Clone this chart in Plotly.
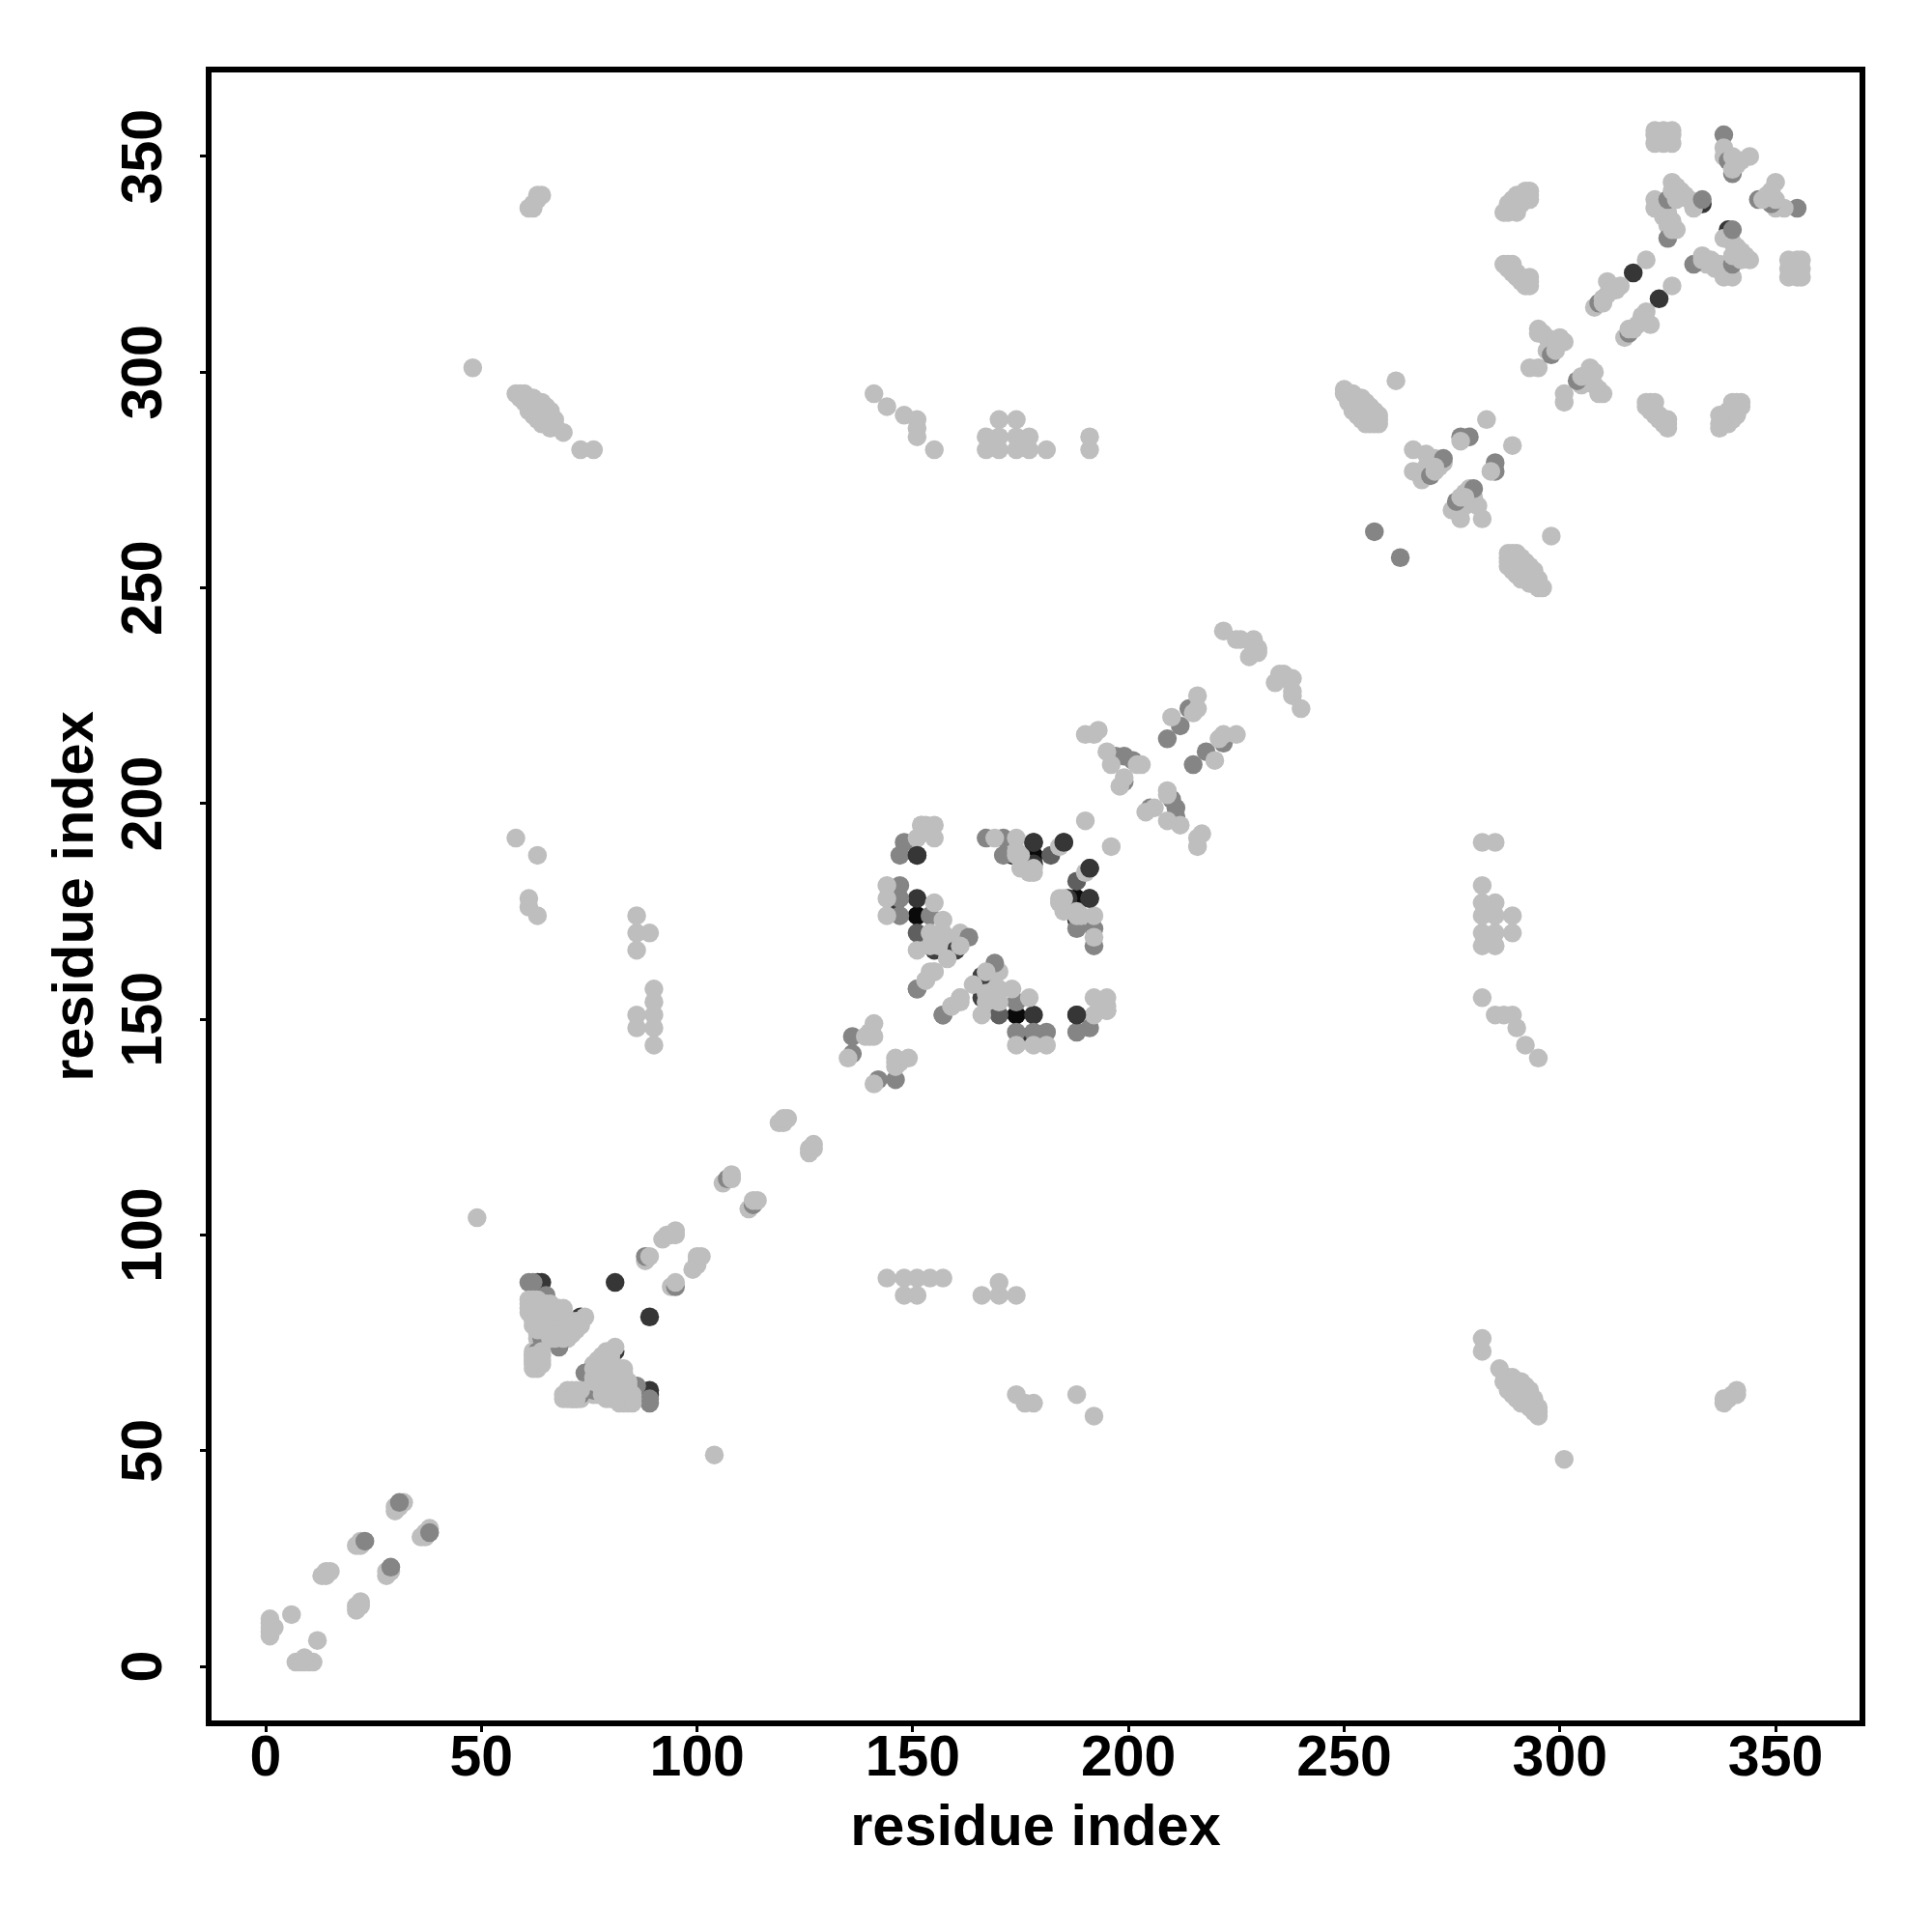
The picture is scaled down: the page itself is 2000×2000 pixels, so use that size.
import plotly.graph_objects as go

# Contact pairs (i, j), i < j; the map is symmetric, each pair is drawn at (i, j) and (j, i).
black_pairs = [(151, 174), (178, 188)]
dark_pairs = [(81, 89), (73, 81), (317, 323), (333, 339), (146, 177), (151, 178), (151, 188),
              (178, 191), (185, 191), (173, 188), (178, 186),
              (63, 89), (64, 89)]
dim_pairs = [(151, 170), (182, 188), (154, 169)]
mid_pairs = [(61, 89), (62, 89), (65, 86), (136, 142), (136, 146), (147, 181), (147, 178), (147, 174),
             (154, 174), (148, 191), (147, 188), (151, 157), (157, 151), (159, 167),
             (167, 192), (171, 192), (171, 188), (214, 222), (212, 218), (209, 215),
             (197, 211), (199, 211), (201, 210), (199, 205), (257, 263),
             (277, 285), (279, 285), (310, 317),
             (338, 355)]
light_pairs = [(1, 7), (1, 8), (1, 9), (1, 10), (1, 11), (2, 9), (6, 12),
               (13, 21), (14, 21), (14, 22), (15, 22), (21, 28), (22, 28), (22, 29),
               (30, 36), (30, 37), (31, 37), (32, 38),
               (48, 301), (49, 104),
               (61, 82), (61, 83), (61, 84), (61, 85),
               (62, 69), (62, 70), (62, 71), (62, 72), (62, 73), (62, 79), (62, 80), (62, 81),
               (62, 82), (62, 83), (62, 84), (62, 85),
               (63, 69), (63, 70), (63, 71), (63, 76), (63, 77), (63, 78), (63, 79), (63, 80),
               (63, 81), (63, 82), (63, 83), (63, 84), (63, 85),
               (64, 70), (64, 71), (64, 72), (64, 75), (64, 77), (64, 78), (64, 79), (64, 80),
               (64, 81), (64, 82), (64, 83), (64, 84),
               (65, 75), (65, 77), (65, 78), (65, 79), (65, 80), (65, 81), (65, 82), (65, 83),
               (65, 84), (66, 76), (66, 78), (66, 79), (66, 80), (66, 81), (66, 82), (66, 83),
               (66, 84), (67, 76), (67, 78), (67, 80), (67, 82), (67, 83),
               (68, 76), (68, 78), (68, 80), (68, 82), (68, 83),
               (69, 76), (69, 78), (69, 80), (69, 82), (69, 83),
               (70, 76), (70, 78), (70, 80), (71, 77), (71, 79), (71, 80),
               (72, 78), (72, 80), (73, 79), (73, 80), (74, 81),
               (88, 94), (92, 99), (93, 100), (94, 100), (95, 100), (95, 101),
               (106, 112),
               (119, 126), (120, 126), (120, 127), (121, 127),
               (135, 141), (140, 147), (140, 146), (141, 146), (139, 146), (141, 149),
               (152, 195), (153, 195), (155, 195), (152, 195), (151, 192), (155, 192),
               (144, 181), (144, 178), (144, 174), (151, 166), (155, 177), (157, 173),
               (154, 170), (161, 170), (158, 168), (157, 170),
               (154, 161), (155, 161), (153, 159), (159, 153),
               (161, 155), (169, 192), (174, 192), (174, 188), (174, 189), (175, 185),
               (178, 184), (178, 185), (177, 184), (175, 188), (184, 190), (190, 196),
               (222, 240), (225, 238), (226, 238), (229, 238), (229, 236), (230, 236),
               (230, 235), (228, 234), (216, 225), (216, 222), (215, 221), (210, 220),
               (190, 216), (192, 216), (193, 217), (195, 212), (203, 209), (202, 209),
               (196, 209), (199, 206), (198, 204),
               (61, 338), (62, 338), (62, 339), (63, 340), (63, 341), (64, 341),
               (58, 295), (59, 295), (60, 295), (59, 294), (60, 293), (61, 292), (61, 294),
               (62, 294), (63, 293), (64, 293), (65, 292), (66, 291), (61, 291), (62, 290),
               (63, 289), (64, 288), (65, 288), (66, 287), (67, 288), (67, 289), (64, 291),
               (65, 290), (69, 286), (73, 282), (76, 282), (62, 292), (63, 291), (64, 290),
               (65, 289), (66, 290),
               (141, 295), (144, 292), (148, 290), (151, 289), (151, 287), (151, 285), (155, 282),
               (167, 285), (167, 282), (170, 289), (170, 285), (170, 282), (174, 289), (174, 285),
               (174, 282), (177, 285), (177, 282), (181, 282), (191, 285), (191, 282),
               (58, 192), (63, 188), (61, 178), (61, 176), (63, 174),
               (86, 174), (86, 170), (86, 166), (89, 170), (90, 157), (90, 154), (86, 151),
               (86, 148), (90, 151), (90, 148), (90, 144),
               (250, 296), (250, 295), (251, 294), (251, 293), (252, 292), (252, 291), (253, 290),
               (254, 289), (255, 288), (256, 288), (257, 288), (258, 288), (258, 289), (258, 290),
               (257, 291), (256, 292), (255, 293), (254, 294), (253, 293), (254, 292), (255, 291),
               (255, 290), (253, 294), (252, 295), (251, 295), (254, 291), (256, 289), (256, 290),
               (262, 298), (283, 289), (277, 284), (266, 282), (269, 281), (273, 279), (266, 277),
               (268, 275), (270, 279), (272, 278), (269, 278), (271, 280),
               (295, 310), (296, 309), (297, 308), (298, 307), (299, 307), (301, 307), (300, 308),
               (298, 305), (297, 305), (295, 309), (299, 306), (293, 301), (295, 301),
               (311, 318), (311, 321), (314, 320), (312, 319), (313, 319), (308, 315),
               (320, 326),
               (322, 353), (322, 355), (322, 356), (324, 353), (324, 355), (324, 356),
               (326, 353), (326, 355), (326, 356), (323, 354), (325, 354),
               (338, 352), (338, 350), (344, 350), (342, 349),
               (326, 344), (327, 343), (328, 342), (322, 340), (322, 338), (324, 336),
               (323, 339), (324, 338), (325, 337), (326, 335), (325, 334), (331, 338),
               (330, 340), (329, 341),
               (287, 337), (288, 337), (288, 339), (289, 338), (289, 340), (290, 339), (290, 341),
               (291, 339), (291, 341), (292, 340), (293, 341), (293, 342), (293, 340), (292, 342),
               (290, 337),
               (287, 325), (288, 325), (289, 325), (289, 324), (288, 324), (290, 323), (291, 322),
               (291, 321), (292, 321), (293, 321), (293, 320), (292, 320), (290, 322), (289, 323),
               (293, 322)]
under_dark_pairs = [(155, 166), (160, 166)]
top_mid_pairs = [(163, 169), (273, 280), (333, 340), (64, 76), (63, 73), (68, 74),
                 (23, 29), (31, 38), (107, 113), (88, 95), (309, 316), (325, 340), (325, 331),
                 (340, 346), (270, 276), (339, 349), (298, 304)]
cap_light_pairs = [(64, 78), (65, 78), (63, 78), (64, 73), (66, 76), (67, 76), (69, 76),
                   (63, 71), (62, 71), (62, 72), (108, 113), (108, 114), (89, 95),
                   (310, 316), (310, 317), (326, 342), (327, 340), (326, 333), (327, 333),
                   (340, 347), (341, 348), (271, 277), (271, 278), (340, 350), (299, 305),
                   (161, 167), (154, 167), (156, 167), (158, 164)]
top_dark_pairs = [(151, 188), (185, 191), (178, 191)]

tick_values = [0, 50, 100, 150, 200, 250, 300, 350]
axis_title = "residue index"

LAYERS = [(black_pairs, "#0A0A0A"), (dark_pairs, "#363636"), (dim_pairs, "#5F5F5F"),
          (mid_pairs, "#858585"), (light_pairs, "#BEBEBE"), (under_dark_pairs, "#404040"),
          (top_mid_pairs, "#858585"), (cap_light_pairs, "#BEBEBE"), (top_dark_pairs, "#363636")]
FONT = "Liberation Sans"

fig = go.Figure()
for pairs, colour in LAYERS:
    xs = [p[0] for p in pairs] + [p[1] for p in pairs]
    ys = [p[1] for p in pairs] + [p[0] for p in pairs]
    fig.add_trace(go.Scatter(x=xs, y=ys, mode="markers", showlegend=False,
                             marker=dict(size=19.5, color=colour, line=dict(width=0))))

axis_style = dict(range=[-12.54, 369.46], tickmode="array", tickvals=tick_values,
                  ticks="outside", ticklen=6, tickwidth=3, tickcolor="black",
                  showline=True, linewidth=6, linecolor="black", mirror=True,
                  showgrid=False, zeroline=False,
                  tickfont=dict(family=FONT, size=59, color="black", weight=700))
title_font = dict(family=FONT, size=59.5, color="black", weight=700)

fig.update_layout(width=1992, height=1992, autosize=False,
                  margin=dict(l=211, r=75, t=67, b=219, pad=0),
                  plot_bgcolor="white", paper_bgcolor="white",
                  xaxis=dict(**axis_style, ticklabelstandoff=-26,
                             title=dict(text=axis_title, font=title_font, standoff=21)),
                  yaxis=dict(**axis_style, tickangle=-90, ticklabelstandoff=16, ticklabelshift=9,
                             title=dict(text=axis_title, font=title_font, standoff=1)))
fig.write_html("out.html")
